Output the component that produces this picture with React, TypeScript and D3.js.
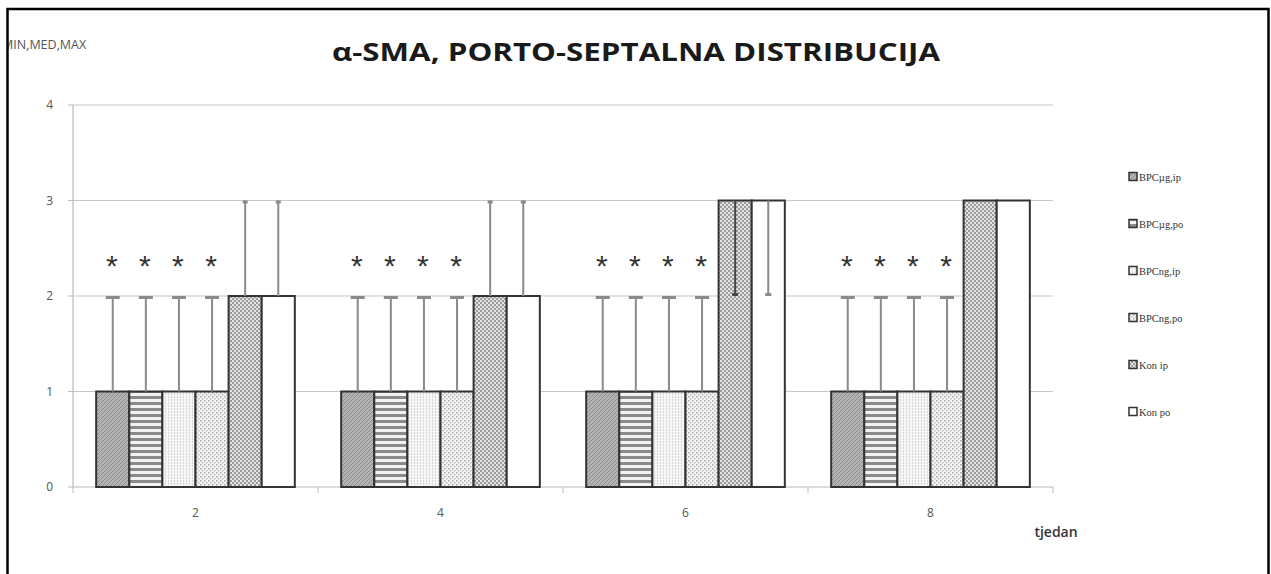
import { useEffect, useRef } from 'react';
import * as d3 from 'd3';

const weeks = ['2', '4', '6', '8'];
const series = ['BPCµg,ip', 'BPCµg,po', 'BPCng,ip', 'BPCng,po', 'Kon ip', 'Kon po'];
// median, min, max per week (rows) and series (columns)
const medians = [
    [1, 1, 1, 1, 2, 2],
    [1, 1, 1, 1, 2, 2],
    [1, 1, 1, 1, 3, 3],
    [1, 1, 1, 1, 3, 3],
];
const mins = [
    [1, 1, 1, 1, 2, 2],
    [1, 1, 1, 1, 2, 2],
    [1, 1, 1, 1, 2, 2],
    [1, 1, 1, 1, 3, 3],
];
const maxs = [
    [2, 2, 2, 2, 3, 3],
    [2, 2, 2, 2, 3, 3],
    [2, 2, 2, 2, 3, 3],
    [2, 2, 2, 2, 3, 3],
];
const starredSeries = ['BPCµg,ip', 'BPCµg,po', 'BPCng,ip', 'BPCng,po'];
const yTicks = [0, 1, 2, 3, 4];

const WIDTH = 1271;
const HEIGHT = 574;

export default function App() {
    const svgRef = useRef<SVGSVGElement | null>(null);

    useEffect(() => {
        if (!svgRef.current) {
            return;
        }
        const svg = d3.select(svgRef.current);
        svg.selectAll('*').remove();

        const plotLeft = 73;
        const plotRight = 1053;
        const plotTop = 105;
        const plotBottom = 487;

        const x = d3.scaleBand<string>().domain(weeks).range([plotLeft, plotRight]).padding(0);
        const xInner = d3.scaleBand<string>().domain(series).range([0, x.bandwidth()]).paddingInner(0).paddingOuter(0.7);
        const y = d3.scaleLinear().domain([0, 4]).range([plotBottom, plotTop]);

        // patterns
        const defs = svg.append('defs');
        const p0 = defs.append('pattern').attr('id', 'pat0').attr('width', 4).attr('height', 4).attr('patternUnits', 'userSpaceOnUse');
        p0.append('rect').attr('width', 4).attr('height', 4).attr('fill', '#b4b4b4');
        p0.append('path').attr('d', 'M0,4 L4,0').attr('stroke', '#8c8c8c').attr('stroke-width', 1);

        const p1 = defs.append('pattern').attr('id', 'pat1').attr('width', 6).attr('height', 6).attr('patternUnits', 'userSpaceOnUse');
        p1.append('rect').attr('width', 6).attr('height', 6).attr('fill', '#f2f2f2');
        p1.append('rect').attr('width', 6).attr('height', 3).attr('fill', '#8a8a8a');

        const p2 = defs.append('pattern').attr('id', 'pat2').attr('width', 3).attr('height', 3).attr('patternUnits', 'userSpaceOnUse');
        p2.append('rect').attr('width', 3).attr('height', 3).attr('fill', '#f6f6f6');
        p2.append('rect').attr('width', 1).attr('height', 2).attr('fill', '#d4d4d4');

        const p3 = defs.append('pattern').attr('id', 'pat3').attr('width', 4).attr('height', 4).attr('patternUnits', 'userSpaceOnUse');
        p3.append('rect').attr('width', 4).attr('height', 4).attr('fill', '#f4f4f4');
        p3.append('rect').attr('width', 1.5).attr('height', 1.5).attr('fill', '#aaaaaa');
        p3.append('rect').attr('x', 2).attr('y', 2).attr('width', 1.5).attr('height', 1.5).attr('fill', '#bbbbbb');

        const p4 = defs.append('pattern').attr('id', 'pat4').attr('width', 4).attr('height', 4).attr('patternUnits', 'userSpaceOnUse');
        p4.append('rect').attr('width', 4).attr('height', 4).attr('fill', '#9a9a9a');
        p4.append('rect').attr('x', 0).attr('y', 0).attr('width', 2).attr('height', 2).attr('fill', '#e4e4e4');
        p4.append('rect').attr('x', 2).attr('y', 2).attr('width', 2).attr('height', 2).attr('fill', '#e4e4e4');

        const fills = ['url(#pat0)', 'url(#pat1)', 'url(#pat2)', 'url(#pat3)', 'url(#pat4)', '#ffffff'];
        const colorOf = d3.scaleOrdinal<string, string>().domain(series).range(fills);

        svg.append('rect').attr('width', WIDTH).attr('height', HEIGHT).attr('fill', '#ffffff');

        // "MIN,MED,MAX" label partly hidden by the border
        svg.append('text')
            .text('MIN,MED,MAX')
            .attr('x', 2)
            .attr('y', 49)
            .attr('fill', '#555')
            .attr('font-family', '"Open Sans", sans-serif')
            .attr('font-size', 12.5);
        svg.append('rect').attr('x', 0).attr('y', 0).attr('width', 7).attr('height', HEIGHT).attr('fill', '#ffffff');

        svg.append('text')
            .text('α-SMA, PORTO-SEPTALNA DISTRIBUCIJA')
            .attr('x', 636)
            .attr('y', 61)
            .attr('text-anchor', 'middle')
            .attr('fill', '#1a1a1a')
            .attr('font-family', '"Open Sans", sans-serif')
            .attr('font-weight', 700)
            .attr('font-size', 25)
            .attr('textLength', 608)
            .attr('lengthAdjust', 'spacingAndGlyphs');

        // grid lines
        svg.append('g')
            .selectAll('line')
            .data(yTicks.filter((t) => t > 0))
            .join('line')
            .attr('x1', plotLeft)
            .attr('x2', plotRight)
            .attr('y1', (d) => y(d))
            .attr('y2', (d) => y(d))
            .attr('stroke', '#c8c8c8')
            .attr('stroke-width', 1.2);

        // y axis
        const yAxis = svg.append('g');
        yAxis.append('line').attr('x1', plotLeft).attr('x2', plotLeft).attr('y1', plotTop).attr('y2', plotBottom).attr('stroke', '#bbb').attr('stroke-width', 1.2);
        yAxis.selectAll('line.tick')
            .data(yTicks)
            .join('line')
            .attr('class', 'tick')
            .attr('x1', plotLeft - 5)
            .attr('x2', plotLeft)
            .attr('y1', (d) => y(d))
            .attr('y2', (d) => y(d))
            .attr('stroke', '#bbb');
        yAxis.selectAll('text')
            .data(yTicks)
            .join('text')
            .text((d) => String(d))
            .attr('x', plotLeft - 20)
            .attr('y', (d) => y(d) + 4)
            .attr('text-anchor', 'end')
            .attr('fill', '#555')
            .attr('font-family', '"Open Sans", sans-serif')
            .attr('font-size', 12);

        // x axis
        const xAxis = svg.append('g');
        xAxis.append('line').attr('x1', plotLeft).attr('x2', plotRight).attr('y1', plotBottom).attr('y2', plotBottom).attr('stroke', '#bbb').attr('stroke-width', 1.2);
        const boundaries = [...weeks.map((w) => x(w) ?? 0), plotRight];
        xAxis.selectAll('line.tick')
            .data(boundaries)
            .join('line')
            .attr('class', 'tick')
            .attr('x1', (d) => d)
            .attr('x2', (d) => d)
            .attr('y1', plotBottom)
            .attr('y2', plotBottom + 6)
            .attr('stroke', '#bbb');
        xAxis.selectAll('text')
            .data(weeks)
            .join('text')
            .text((d) => d)
            .attr('x', (d) => (x(d) ?? 0) + x.bandwidth() / 2)
            .attr('y', plotBottom + 30)
            .attr('text-anchor', 'middle')
            .attr('fill', '#555')
            .attr('font-family', '"Open Sans", sans-serif')
            .attr('font-size', 12);
        svg.append('text')
            .text('tjedan')
            .attr('x', 1056)
            .attr('y', 537)
            .attr('text-anchor', 'middle')
            .attr('fill', '#333')
            .attr('font-family', '"Open Sans", sans-serif')
            .attr('font-weight', 600)
            .attr('font-size', 14);

        // bars
        const rows = weeks.flatMap((week, wi) =>
            series.map((name, si) => ({
                week,
                name,
                median: medians[wi][si],
                min: mins[wi][si],
                max: maxs[wi][si],
            }))
        );
        const barX = (d: { week: string; name: string }) => (x(d.week) ?? 0) + (xInner(d.name) ?? 0);
        const bw = xInner.bandwidth();

        svg.append('g')
            .selectAll('rect')
            .data(rows)
            .join('rect')
            .attr('x', (d) => barX(d))
            .attr('y', (d) => y(d.median))
            .attr('width', bw)
            .attr('height', (d) => y(0) - y(d.median))
            .attr('fill', (d) => colorOf(d.name))
            .attr('stroke', '#333')
            .attr('stroke-width', 2);

        // error bars
        const errRows = rows.filter((d) => d.max > d.median || d.min < d.median);
        const err = svg.append('g');
        errRows.forEach((d) => {
            const cx = barX(d) + bw / 2;
            const overBar = d.min < d.median;
            const color = d.name === 'Kon ip' && overBar ? '#444' : '#8a8a8a';
            if (d.max > d.median) {
                const capW = d.name.startsWith('Kon') ? 5 : 14;
                err.append('line').attr('x1', cx).attr('x2', cx).attr('y1', y(d.median)).attr('y2', y(d.max)).attr('stroke', color).attr('stroke-width', 2);
                err.append('line').attr('x1', cx - capW / 2).attr('x2', cx + capW / 2).attr('y1', y(d.max) + 1.5).attr('y2', y(d.max) + 1.5).attr('stroke', color).attr('stroke-width', 3);
            }
            if (d.min < d.median) {
                err.append('line').attr('x1', cx).attr('x2', cx).attr('y1', y(d.median)).attr('y2', y(d.min)).attr('stroke', color).attr('stroke-width', 2);
                err.append('line').attr('x1', cx - 3).attr('x2', cx + 3).attr('y1', y(d.min) - 1.5).attr('y2', y(d.min) - 1.5).attr('stroke', color).attr('stroke-width', 3);
            }
        });

        // asterisks
        svg.append('g')
            .selectAll('text')
            .data(rows.filter((d) => starredSeries.includes(d.name)))
            .join('text')
            .text('*')
            .attr('x', (d) => barX(d) + bw / 2 - 1)
            .attr('y', (d) => y(d.max) - 20)
            .attr('text-anchor', 'middle')
            .attr('fill', '#333')
            .attr('font-family', '"Liberation Sans", sans-serif')
            .attr('font-size', 30);

        // legend
        const legend = svg.append('g').attr('transform', 'translate(1129, 0)');
        const legendY = d3.scalePoint<string>().domain(series).range([177, 412]);
        const items = legend.selectAll('g').data(series).join('g').attr('transform', (d) => `translate(0, ${legendY(d)})`);
        items.append('rect')
            .attr('x', 0)
            .attr('y', -4.5)
            .attr('width', 8)
            .attr('height', 8)
            .attr('fill', (d) => colorOf(d))
            .attr('stroke', '#333')
            .attr('stroke-width', 1.5);
        items.append('text')
            .text((d) => d)
            .attr('x', 10)
            .attr('y', 3.5)
            .attr('fill', '#333')
            .attr('font-family', '"Liberation Serif", serif')
            .attr('font-size', 10.5);

        // outer border
        svg.append('path')
            .attr('d', `M7.5,${HEIGHT + 5} L7.5,9 L1268.5,9 L1268.5,${HEIGHT + 5}`)
            .attr('fill', 'none')
            .attr('stroke', '#000')
            .attr('stroke-width', 2.5);
    }, []);

    return (
        <svg
            ref={svgRef}
            width={WIDTH}
            height={HEIGHT}
            style={{ position: 'absolute', left: 0, top: 0 }}
            role="img"
            aria-label="alpha-SMA porto-septal distribution chart"
        />
    );
}
